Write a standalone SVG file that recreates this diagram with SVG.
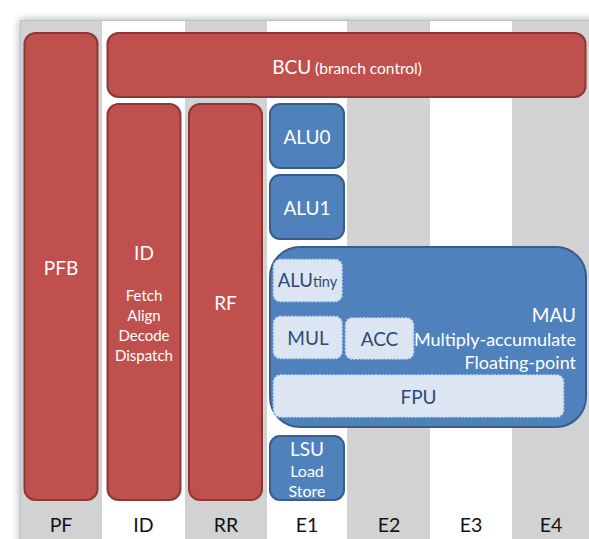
<svg xmlns="http://www.w3.org/2000/svg" width="589" height="539" viewBox="0 0 589 539">
  <defs>
    <filter id="shadow" x="-10%" y="-10%" width="120%" height="120%">
      <feGaussianBlur stdDeviation="5"/>
    </filter>
    <style>
      text { font-family: Lato, "Open Sans", "DejaVu Sans", sans-serif; text-anchor: middle; }
      .stage { fill: #d2d2d2; }
      .red { fill: #c0504d; stroke: #8c3836; stroke-width: 2; }
      .blue { fill: #4f81bd; stroke: #385d8a; stroke-width: 2; }
      .sub { fill: #dce6f2; stroke: #c6d9f1; stroke-width: 1.6; stroke-dasharray: 2 1.5; }
      .wt { fill: #ffffff; }
      .dk { fill: #2c4a78; }
      .big { font-size: 19px; }
      .small { font-size: 15px; }
      .lbl { font-size: 19.5px; fill: #111111; }
    </style>
  </defs>

  <!-- page with soft shadow -->
  <rect x="20" y="20" width="590" height="540" fill="#000" opacity="0.35" filter="url(#shadow)"/>
  <rect x="20" y="20" width="569" height="519" fill="#ffffff"/>

  <!-- pipeline stage columns -->
  <g id="stages">
    <rect class="stage" x="20" y="20" width="82" height="519"/>
    <rect class="stage" x="185" y="20" width="82" height="519"/>
    <rect class="stage" x="347" y="20" width="83" height="519"/>
    <rect class="stage" x="512" y="20" width="77" height="519"/>
    <line x1="20.5" y1="20" x2="20.5" y2="539" stroke="#b8c2cc" stroke-width="1"/>
    <line x1="20" y1="20.5" x2="589" y2="20.5" stroke="#b8c2cc" stroke-width="1"/>
  </g>

  <!-- red units -->
  <g id="pfb">
    <rect class="red" x="24.5" y="33" width="73" height="467" rx="11"/>
    <text class="wt big" x="61" y="275">PFB</text>
  </g>
  <g id="bcu">
    <rect class="red" x="107.5" y="33" width="478" height="64" rx="11"/>
    <text class="wt" x="347" y="74"><tspan font-size="19">BCU</tspan><tspan font-size="15.5"> (branch control)</tspan></text>
  </g>
  <g id="id">
    <rect class="red" x="107.5" y="104" width="73" height="396" rx="11"/>
    <text class="wt big" x="144" y="260">ID</text>
    <text class="wt small" x="144" y="301">Fetch</text>
    <text class="wt small" x="144" y="321">Align</text>
    <text class="wt small" x="144" y="341">Decode</text>
    <text class="wt small" x="144" y="361">Dispatch</text>
  </g>
  <g id="rf">
    <rect class="red" x="189" y="104" width="73" height="396" rx="11"/>
    <text class="wt big" x="225.5" y="310">RF</text>
  </g>

  <!-- blue execution units -->
  <g id="alu0">
    <rect class="blue" x="270" y="104" width="74" height="64" rx="10"/>
    <text class="wt big" x="307" y="144">ALU0</text>
  </g>
  <g id="alu1">
    <rect class="blue" x="270" y="175" width="74" height="64" rx="10"/>
    <text class="wt big" x="307" y="215">ALU1</text>
  </g>
  <g id="mau">
    <rect class="blue" x="270" y="247" width="316" height="180" rx="30"/>
    <text class="wt big" x="576" y="322" style="text-anchor:end">MAU</text>
    <text class="wt" x="576" y="346" font-size="18" style="text-anchor:end">Multiply-accumulate</text>
    <text class="wt" x="576" y="369" font-size="18" style="text-anchor:end">Floating-point</text>
  </g>
  <g id="alutiny">
    <rect class="sub" x="273.5" y="259.5" width="68.5" height="42" rx="7"/>
    <text class="dk" x="307.5" y="287"><tspan font-size="18.5">ALU</tspan><tspan font-size="14.5">tiny</tspan></text>
  </g>
  <g id="mul">
    <rect class="sub" x="273.5" y="316.5" width="68.5" height="42" rx="7"/>
    <text class="dk big" x="308" y="345">MUL</text>
  </g>
  <g id="acc">
    <rect class="sub" x="345.5" y="318" width="68" height="41" rx="7"/>
    <text class="dk big" x="379.5" y="346">ACC</text>
  </g>
  <g id="fpu">
    <rect class="sub" x="273.5" y="375" width="290" height="42" rx="7"/>
    <text class="dk big" x="418.5" y="404">FPU</text>
  </g>
  <g id="lsu">
    <rect class="blue" x="270" y="436" width="74" height="64" rx="10"/>
    <text class="wt big" x="307" y="456">LSU</text>
    <text class="wt" x="307" y="477" font-size="16">Load</text>
    <text class="wt" x="307" y="497" font-size="16">Store</text>
  </g>

  <!-- stage names -->
  <g id="stage-labels">
    <text class="lbl" x="61" y="532">PF</text>
    <text class="lbl" x="143.5" y="532">ID</text>
    <text class="lbl" x="226" y="532">RR</text>
    <text class="lbl" x="307" y="532">E1</text>
    <text class="lbl" x="389" y="532">E2</text>
    <text class="lbl" x="471" y="532">E3</text>
    <text class="lbl" x="551" y="532">E4</text>
  </g>
</svg>
